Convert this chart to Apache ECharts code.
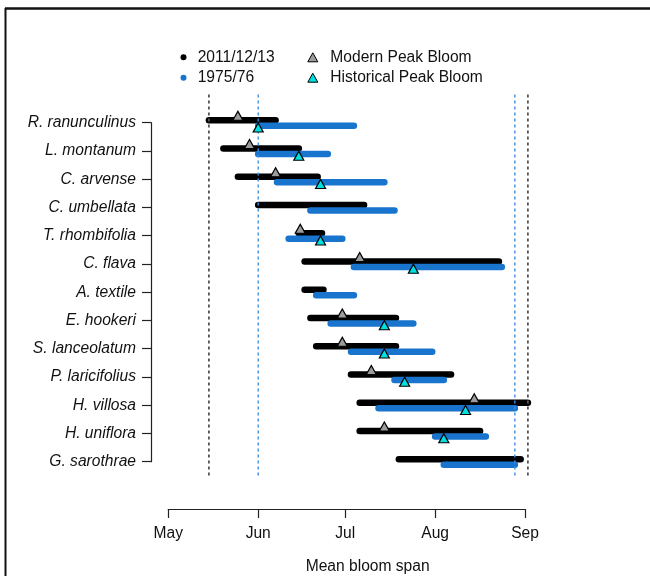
<!DOCTYPE html>
<html>
<head>
<meta charset="utf-8">
<title>Mean bloom span</title>
<script src="https://cdn.jsdelivr.net/npm/echarts@6/dist/echarts.min.js"></script>
<style>
  html, body { margin: 0; padding: 0; background: #fff; }
  #chart { width: 650px; height: 576px; }
</style>
</head>
<body>
<div id="chart"></div>
<script>
// Month ticks on a day-of-year scale
const monthLabels = ['May', 'Jun', 'Jul', 'Aug', 'Sep'];
const monthStarts = [121, 152, 182, 213, 244];

const species = [
  'R. ranunculinus', 'L. montanum', 'C. arvense', 'C. umbellata',
  'T. rhombifolia', 'C. flava', 'A. textile', 'E. hookeri',
  'S. lanceolatum', 'P. laricifolius', 'H. villosa', 'H. uniflora',
  'G. sarothrae'
];

// 2011/12/13 bloom span (day of year)
const modernStart = [135, 140, 145, 152, 166, 168, 168, 170, 172, 184, 187, 187, 200.5];
const modernEnd   = [158, 166, 172.5, 188.5, 174, 235, 174.5, 199.5, 199.5, 218.5, 245, 228.5, 242.5];
// 1975/76 bloom span (day of year)
const historicStart = [152, 152, 158.5, 170, 162.5, 185, 172, 177, 184, 199, 193.5, 213, 216];
const historicEnd   = [185, 176, 195.5, 199, 181, 236, 185, 205.5, 212, 216, 240.5, 230.5, 240.5];
// Peak bloom days (null where not recorded)
const modernPeak   = [145, 149, 158, null, 166.5, 187, null, 181, 181, 191, 226.5, 195.5, null];
const historicPeak = [152, 166, 173.5, null, 173.5, 205.5, null, 195.5, 195.5, 202.5, 223.5, 216, null];

const BLACK = '#000000';
const BLUE = '#1874CD';
const FONT = "'Liberation Sans', Arial, Helvetica, sans-serif";

// reference lines at the earliest start / latest end of each period
const modernBounds = [Math.min(...modernStart), Math.max(...modernEnd)];
const historicBounds = [Math.min(...historicStart), Math.max(...historicEnd)];

function spanRenderer(dy, color) {
  return function (params, api) {
    const a = api.coord([api.value(0), api.value(2)]);
    const b = api.coord([api.value(1), api.value(2)]);
    return {
      type: 'line',
      shape: { x1: a[0], y1: a[1] + dy, x2: b[0], y2: b[1] + dy },
      style: { stroke: color, lineWidth: 6.5, lineCap: 'round' }
    };
  };
}

// vertical dotted guide spanning the whole plotting band
const GUIDE_TOP_ROW = 0.0;
const GUIDE_BOTTOM_ROW = 13.57;
function guideRenderer(color, width) {
  return function (params, api) {
    const a = api.coord([api.value(0), GUIDE_TOP_ROW]);
    const b = api.coord([api.value(0), GUIDE_BOTTOM_ROW]);
    return {
      type: 'line',
      shape: { x1: a[0], y1: a[1], x2: b[0], y2: b[1] },
      style: { stroke: color, lineWidth: width, lineDash: [3, 3] }
    };
  };
}

const spanModern = species.map((s, i) => [modernStart[i], modernEnd[i], i + 1]);
const spanHistoric = species.map((s, i) => [historicStart[i], historicEnd[i], i + 1]);
const peakModern = species.map((s, i) => modernPeak[i] == null ? null : [modernPeak[i], i + 1]).filter(Boolean);
const peakHistoric = species.map((s, i) => historicPeak[i] == null ? null : [historicPeak[i], i + 1]).filter(Boolean);

const chart = echarts.init(document.getElementById('chart'), null, { renderer: 'canvas' });

const textBase = { fontFamily: FONT, fontSize: 15.6, color: '#111' };

chart.setOption({
  animation: false,
  backgroundColor: '#fff',
  textStyle: { fontFamily: FONT },
  graphic: [
    { type: 'line', shape: { x1: 5, y1: 8.5, x2: 650, y2: 8.5 }, style: { stroke: '#111', lineWidth: 2.5 } },
    { type: 'line', shape: { x1: 5.5, y1: 8, x2: 5.5, y2: 576 }, style: { stroke: '#111', lineWidth: 2 } }
  ],
  legend: [
    {
      orient: 'vertical',
      left: 180.5,
      top: 49.3,
      padding: 0,
      itemGap: 4.4,
      itemWidth: 6,
      itemHeight: 6,
      selectedMode: false,
      textStyle: Object.assign({ lineHeight: 16, padding: [0, 0, 0, 6.2] }, textBase),
      data: [
        { name: '2011/12/13', icon: 'circle' },
        { name: '1975/76', icon: 'circle' }
      ]
    },
    {
      orient: 'vertical',
      left: 307.3,
      top: 49.3,
      padding: 0,
      itemGap: 4.4,
      itemWidth: 10,
      itemHeight: 9,
      selectedMode: false,
      itemStyle: { borderWidth: 1, borderColor: '#000' },
      textStyle: Object.assign({ lineHeight: 16, padding: [0, 0, 0, 7.5] }, textBase),
      data: [
        { name: 'Modern Peak Bloom', icon: 'triangle' },
        { name: 'Historical Peak Bloom', icon: 'triangle' }
      ]
    }
  ],
  grid: {
    left: 168.3, right: 125, top: 122.7, bottom: 114.3,
    containLabel: false,
    outerBoundsMode: 'none'
  },
  xAxis: {
    type: 'value',
    min: monthStarts[0],
    max: monthStarts[monthStarts.length - 1],
    offset: 47.3,
    name: 'Mean bloom span',
    nameLocation: 'middle',
    nameGap: 50,
    nameTextStyle: Object.assign({ padding: [0, 0, 0, 42] }, textBase),
    axisLine: { show: true, lineStyle: { color: '#222', width: 1.2 } },
    axisTick: { show: true, length: 9, customValues: monthStarts, lineStyle: { color: '#222', width: 1.2 } },
    axisLabel: Object.assign({
      margin: 17,
      customValues: monthStarts,
      formatter: v => monthLabels[monthStarts.indexOf(v)] || ''
    }, textBase),
    splitLine: { show: false }
  },
  yAxis: {
    type: 'value',
    inverse: true,
    min: 1,
    max: species.length,
    interval: 1,
    offset: 17.3,
    axisLine: { show: true, lineStyle: { color: '#222', width: 1.2 } },
    axisTick: { show: true, length: 9, lineStyle: { color: '#222', width: 1.2 } },
    axisLabel: Object.assign({
      margin: 15,
      fontStyle: 'italic',
      formatter: v => species[v - 1] || ''
    }, textBase),
    splitLine: { show: false }
  },
  series: [
    {
      name: '2011/12/13',
      type: 'custom',
      clip: false,
      itemStyle: { color: BLACK },
      encode: { x: [0, 1], y: 2 },
      renderItem: spanRenderer(-2.5, BLACK),
      data: spanModern,
      z: 2
    },
    {
      name: '1975/76',
      type: 'custom',
      clip: false,
      itemStyle: { color: BLUE },
      encode: { x: [0, 1], y: 2 },
      renderItem: spanRenderer(3, BLUE),
      data: spanHistoric,
      z: 3
    },
    {
      name: 'modern-bounds',
      type: 'custom',
      clip: false,
      silent: true,
      encode: { x: 0 },
      renderItem: guideRenderer('#555', 1.8),
      data: modernBounds.map(v => [v]),
      z: 4
    },
    {
      name: 'historic-bounds',
      type: 'custom',
      clip: false,
      silent: true,
      encode: { x: 0 },
      renderItem: guideRenderer('#3d8ee0', 1.4),
      data: historicBounds.map(v => [v]),
      z: 4
    },
    {
      name: 'Modern Peak Bloom',
      type: 'scatter',
      symbol: 'triangle',
      symbolSize: [10, 9],
      symbolOffset: [0, -7],
      clip: false,
      itemStyle: { color: '#9c9c9c', borderColor: '#000', borderWidth: 1.2, opacity: 1 },
      data: peakModern,
      z: 5
    },
    {
      name: 'Historical Peak Bloom',
      type: 'scatter',
      symbol: 'triangle',
      symbolSize: [10, 9],
      symbolOffset: [0, 4.8],
      clip: false,
      itemStyle: { color: '#00e0e0', borderColor: '#000', borderWidth: 1.2, opacity: 1 },
      data: peakHistoric,
      z: 5
    }
  ]
});
</script>
</body>
</html>
